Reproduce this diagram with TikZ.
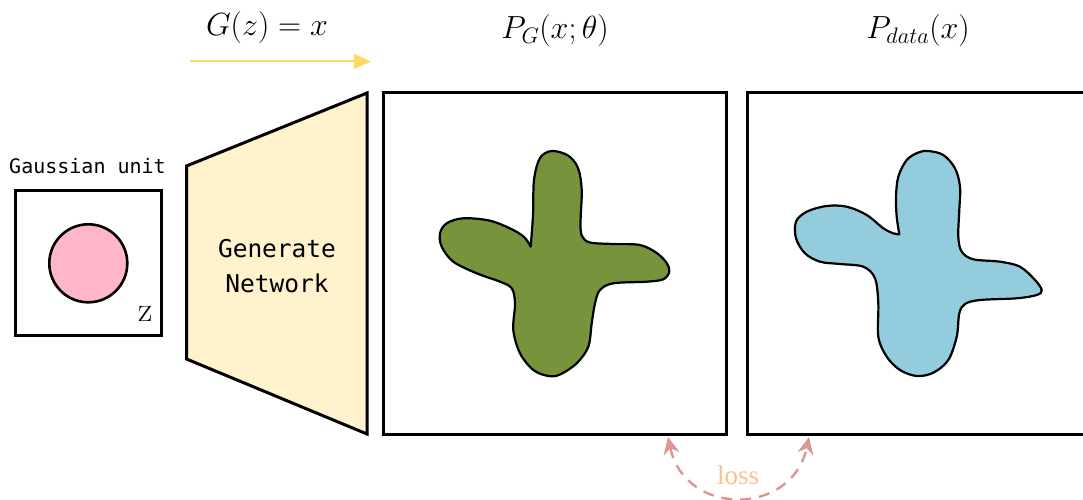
\RequirePackage{fix-cm}
\documentclass[tikz,border=0pt]{standalone}
\usepackage{fontspec}
\newfontfamily\monofont{DejaVu Sans Mono}
\newfontfamily\lossfont{Liberation Serif}
\usetikzlibrary{arrows.meta}
\definecolor{noisepink}{HTML}{FFB6C8}
\definecolor{genyellow}{HTML}{FFF2CC}
\definecolor{arrowyellow}{HTML}{FFD966}
\definecolor{fakegreen}{HTML}{77933C}
\definecolor{realblue}{HTML}{93CDDD}
\definecolor{lossred}{HTML}{D99694}
\definecolor{losstext}{HTML}{FAC090}
\tikzset{
  panel/.style={draw, line width=3pt, inner sep=0pt},
  blob/.style={draw, line width=2.2pt, line join=round},
  mathlabel/.style={font=\fontsize{32}{32}\selectfont},
  maparrow/.style={draw=arrowyellow, line width=2pt, -{Triangle[length=17pt,width=15pt]}},
  lossarrow/.style={draw=lossred, line width=2.4pt, dash pattern=on 11pt off 8pt,
    {Stealth[length=17pt,width=16pt]}-{Stealth[length=17pt,width=16pt]}}
}
\begin{document}
\begin{tikzpicture}[x=1pt,y=-1pt]
\useasboundingbox (0,0) rectangle (1083,500);

% Gaussian input
\node[font=\monofont\fontsize{20}{24}\selectfont, anchor=base] (gausslabel) at (87.5,173) {Gaussian unit};
\node[panel, minimum width=146pt, minimum height=145pt] (gaussbox) at (88,263) {};
\node[circle, draw, line width=2.6pt, fill=noisepink, inner sep=0pt, minimum size=78pt] (noise) at (88.3,263.3) {};
\node[font=\fontsize{35}{35}\selectfont, inner sep=0pt] (zlabel) at (146,314) {z};

% Generator
\coordinate (genTL) at (186.5,166);
\coordinate (genTR) at (367,93);
\coordinate (genBR) at (367,434);
\coordinate (genBL) at (186.5,359);
\draw[line width=3pt, fill=genyellow] (genTL) -- (genTR) -- (genBR) -- (genBL) -- cycle;
\node[font=\monofont\fontsize{24.5}{35}\selectfont, align=center] (gentext) at (277,266) {Generate\\Network};

% mapping G(z)=x
\node[mathlabel] (gzlabel) at (267,28) {$G(z)=x$};
\coordinate (mapstart) at (190,61.5);
\coordinate (mapend) at (371,61.5);
\draw[maparrow] (mapstart) -- (mapend);

% generated and real distributions
\node[panel, minimum width=343pt, minimum height=341pt] (genpanel) at (554.5,263.5) {};
\node[panel, minimum width=339pt, minimum height=341pt] (datapanel) at (916.5,263.5) {};
\node[mathlabel] (pglabel) at (555,31) {$P_G(x;\theta)$};
\node[mathlabel] (pdatalabel) at (918,31) {$P_{data}(x)$};

\draw[blob, fill=fakegreen] plot[smooth, tension=0.55] coordinates {
  (530.7,246.7) (533,215) (534,180) (540,158) (551.7,151) (568,155.5) (578,168)
  (581.7,190) (580.5,223) (582,236) (590,242.5) (613.3,244) (640,245) (656.7,253)
  (666.7,263) (669.3,271.7) (663.3,279.3) (646.7,281.7) (613.3,283.3) (600,290)
  (595,303.3) (591.7,323.3) (588.3,346.7) (576.7,363.3) (560,374.5) (548.3,376)
  (533.3,370) (520,353.3) (513.3,330) (515,303.3) (511.7,288.3) (500,281.7)
  (476.7,273.3) (453.3,261.7) (441.7,246.7) (440,233.3) (446.7,223.3) (463.3,218.3)
  (490,220.7) (513.3,230) (525,238) (530.7,246.7)} -- cycle;

\draw[blob, fill=realblue] plot[smooth, tension=0.55] coordinates {
  (899.3,234.3) (896.7,216.7) (896,196.7) (898.3,176.7) (906.7,160) (918.3,152.5)
  (928.3,151) (943.3,155) (955,168.3) (960,186.7) (959.3,210) (958.3,236.7)
  (961.7,251.7) (973.3,259.3) (1000,261.7) (1020,266.7) (1035,280) (1041.7,290)
  (1036.7,295) (1016.7,298.3) (980,300) (965,304) (959.3,313.3) (956.7,336.7)
  (948.3,360) (933.3,372.7) (916.7,376) (900,370) (886.7,356.7) (878.3,336.7)
  (878.3,303.3) (875,278.3) (863.3,266.7) (840,264) (820,261.7) (805,253.3)
  (796,238.3) (796,221.7) (806.7,211.7) (826.7,206) (846.7,206.7) (866.7,215)
  (883.3,228.3) (893.3,233.3) (899.3,234.3)} -- cycle;

% loss between the two distributions
\coordinate (lossstart) at (668,437);
\coordinate (lossend) at (809,437);
\draw[lossarrow] (lossstart) .. controls (685,517) and (792,517) .. (lossend);
\node[font=\lossfont\fontsize{27}{27}\selectfont, text=losstext] (losslabel) at (738,475) {loss};
\end{tikzpicture}
\end{document}
